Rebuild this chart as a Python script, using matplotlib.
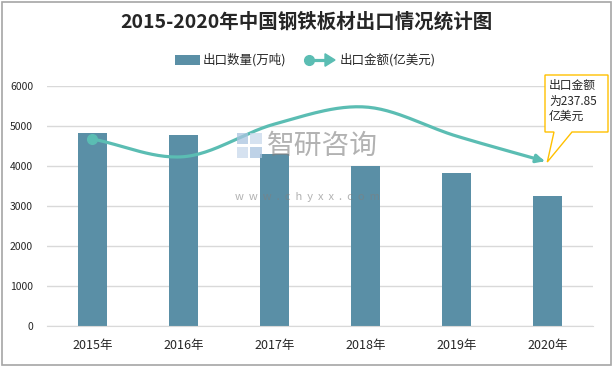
## Libraries
import numpy as np
import matplotlib
matplotlib.use('Agg')
import matplotlib.pyplot as plt
from matplotlib.patches import Rectangle, Polygon
from matplotlib.lines import Line2D

plt.rcParams['font.family'] = ['Noto Sans CJK SC', 'DejaVu Sans']

## Data
years = ['2015年', '2016年', '2017年', '2018年', '2019年', '2020年']
volume = [4825, 4765, 4300, 4000, 3830, 3260]          # 出口数量(万吨)
value = [271.2, 245.5, 292.8, 317.6, 275.5, 237.85]     # 出口金额(亿美元)

bar_col = '#5A8FA6'
line_col = '#5BBDB3'

## Smooth curve (Catmull-Rom, like the smoothed line)
def smooth(x, y, n=30):
    x = np.asarray(x, float); y = np.asarray(y, float)
    px = np.concatenate([[2*x[0]-x[1]], x, [2*x[-1]-x[-2]]])
    py = np.concatenate([[2*y[0]-y[1]], y, [2*y[-1]-y[-2]]])
    xs, ys = [], []
    t = np.linspace(0, 1, n)
    for i in range(1, len(px)-2):
        p0, p1, p2, p3 = [np.array([px[j], py[j]]) for j in range(i-1, i+3)]
        c1 = p1 + (p2 - p0)/6
        c2 = p2 - (p3 - p1)/6
        b = ((1-t)**3)[:, None]*p1 + (3*(1-t)**2*t)[:, None]*c1 + (3*(1-t)*t**2)[:, None]*c2 + (t**3)[:, None]*p2
        xs.extend(b[:, 0]); ys.extend(b[:, 1])
    return np.array(xs), np.array(ys)

## Figure
W, H = 613, 367
fig = plt.figure(figsize=(6.13, 3.67), dpi=100)
fig.patch.set_facecolor('white')
fig.add_artist(Rectangle((0.004, 0.006), 0.992, 0.988, transform=fig.transFigure,
                         fill=False, edgecolor='#A6A6A6', lw=1.2))

ax = fig.add_axes([0.0767, 0.1117, 0.8903, 0.654])
x = np.arange(len(years))
ax.bar(x, volume, width=0.32, color=bar_col, zorder=2)
ax.set_ylim(0, 6000)
ax.set_xlim(-0.5, len(years)-0.5)
ax.set_yticks(np.arange(0, 6001, 1000))
ax.set_xticks(x)
ax.set_xticklabels(years, fontsize=9, color='#262626')
ax.tick_params(axis='y', labelsize=7.5, colors='#262626', length=0, pad=10)
ax.tick_params(axis='x', length=0, pad=9)
ax.grid(axis='y', color='#D9D9D9', lw=1, zorder=0)
for s in ['top', 'right', 'left']:
    ax.spines[s].set_visible(False)
ax.spines['bottom'].set_color('#D9D9D9')

## Watermark (logo drawn as shapes, text on top of bars)
logo = [(237, 133, 11, 11), (250, 133, 12, 11), (237, 147, 11, 11), (250, 147, 12, 11)]
for i, (a, b, w, h) in enumerate(logo):
    fig.add_artist(Rectangle((a/W, 1-(b+h)/H), w/W, h/H, transform=fig.transFigure,
                             facecolor='#A9C4E0' if i % 3 == 0 else '#C9D9EC', edgecolor='none',
                             alpha=0.75, zorder=5))
fig.text(267/W, 1-146/H, '智研咨询', fontsize=20, color='#7F7F7F', alpha=0.6,
         ha='left', va='center', zorder=5)
fig.text(307/W, 1-197/H, 'w  w  w  .  c  h  y  x  x  .  c  o  m', fontsize=8, color='#7F7F7F',
         alpha=0.6, ha='center', va='center', zorder=5)

## Line on hidden secondary axis
ax2 = ax.twinx()
ax2.set_ylim(0, 6000*237.85/4100)
ax2.axis('off')
sx, sy = smooth(x, value)
ax2.plot(sx[:-3], sy[:-3], color=line_col, lw=2.3, solid_capstyle='butt', zorder=3)
ax2.annotate('', xy=(sx[-1], sy[-1]), xytext=(sx[-4], sy[-4]),
             arrowprops=dict(arrowstyle='-|>', color=line_col, lw=2.3, mutation_scale=12))
ax2.plot(x[0], value[0], 'o', color=line_col, ms=7, zorder=4)

## Callout
fig.canvas.draw()
pt = ax2.transData.transform((x[-1], value[-1]))
px_, py_ = pt[0], H - pt[1]
box = [(545, 75), (608, 75), (608, 132), (572, 132), (px_, py_), (554, 132), (545, 132)]
fig.add_artist(Polygon([(a/W, 1-b/H) for a, b in box], closed=True, transform=fig.transFigure,
                       facecolor='white', edgecolor='#FFC000', lw=1, zorder=5))
fig.text(549/W, 1-79/H, '出口金额\n为237.85\n亿美元', fontsize=8.5, color='#262626',
         ha='left', va='top', linespacing=1.25, zorder=6)

## Title and legend
fig.text(0.5, 0.94, '2015-2020年中国钢铁板材出口情况统计图', fontsize=14, fontweight='bold',
         color='#262626', ha='center', va='center')
ly = 1 - 60/H
fig.add_artist(Rectangle((175/W, ly-0.013), 25/W, 0.026, transform=fig.transFigure,
                         facecolor=bar_col, edgecolor='none'))
fig.text(203/W, ly, '出口数量(万吨)', fontsize=9, color='#262626', ha='left', va='center')
fig.add_artist(Line2D([309/W, 326/W], [ly, ly], transform=fig.transFigure, color=line_col, lw=2.3))
fig.add_artist(Line2D([309/W], [ly], transform=fig.transFigure, marker='o', color=line_col, ms=7))
fig.add_artist(Polygon([(325/W, ly+0.017), (335/W, ly), (325/W, ly-0.017)], closed=True,
                       transform=fig.transFigure, color=line_col))
fig.text(340/W, ly, '出口金额(亿美元)', fontsize=9, color='#262626', ha='left', va='center')

plt.savefig('out.png', dpi=100)
